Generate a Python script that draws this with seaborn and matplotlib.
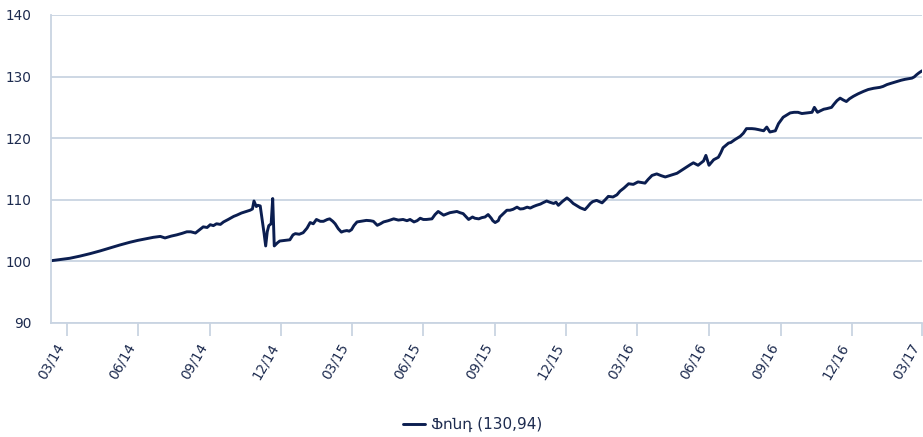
import numpy as np
import pandas as pd
import matplotlib
matplotlib.use('Agg')
import matplotlib.pyplot as plt
import matplotlib.dates as mdates
import seaborn as sns

# fund index, days counted from the first observation
start_date = '2014-02-09'
day_offset = [
    0, 12, 24, 37, 50, 63, 76, 88, 101, 111, 123, 131, 140, 146, 154, 161, 168, 174, 179, 185,
    190, 195, 200, 204, 208, 212, 217, 221, 227, 234, 238, 244, 250, 255, 258, 260, 263, 265, 268, 270,
    273, 275, 277, 279, 282, 284, 286, 290, 293, 300, 306, 310, 313, 318, 323, 328, 332, 336, 340, 345,
    349, 354, 357, 361, 364, 368, 372, 375, 379, 382, 385, 388, 392, 397, 404, 409, 413, 418, 422, 426,
    432, 439, 445, 451, 456, 460, 465, 469, 473, 477, 481, 488, 492, 496, 503, 507, 511, 520, 524, 528,
    532, 535, 540, 543, 548, 552, 556, 560, 564, 566, 569, 573, 575, 579, 584, 588, 592, 597, 601, 605,
    610, 614, 618, 622, 627, 630, 635, 639, 644, 647, 650, 655, 661, 665, 669, 674, 678, 684, 687, 691,
    694, 699, 706, 710, 714, 720, 725, 729, 734, 740, 746, 752, 761, 765, 770, 776, 782, 787, 792, 797,
    802, 808, 815, 819, 823, 829, 836, 839, 843, 849, 855, 858, 861, 868, 871, 876, 883, 887, 891, 898,
    902, 906, 913, 917, 921, 928, 932, 938, 943, 947, 952, 957, 962, 968, 975, 978, 982, 985, 990, 994,
    1000, 1003, 1007, 1011, 1015, 1019, 1023, 1028, 1034, 1041, 1047, 1054, 1062, 1066, 1071, 1076, 1084, 1089, 1094, 1103,
    1106, 1109, 1112, 1116,
]
fund_value = [
    100.1, 100.3, 100.5, 100.85, 101.25, 101.7, 102.2, 102.65, 103.1, 103.4, 103.7, 103.9, 104.05, 103.8, 104.1, 104.3, 104.55, 104.8, 104.8, 104.6,
    105.1, 105.6, 105.5, 105.95, 105.8, 106.1, 106.0, 106.4, 106.8, 107.3, 107.5, 107.85, 108.1, 108.3, 108.5, 109.8, 108.9, 109.1, 109.0, 107.2,
    104.5, 102.5, 104.8, 105.8, 106.1, 110.2, 102.5, 103.0, 103.3, 103.4, 103.5, 104.3, 104.5, 104.4, 104.65, 105.4, 106.3, 106.1, 106.8, 106.5,
    106.5, 106.8, 106.9, 106.5, 106.1, 105.3, 104.75, 104.9, 105.0, 104.9, 105.15, 105.8, 106.4, 106.5, 106.65, 106.6, 106.5, 105.85, 106.1, 106.4,
    106.6, 106.9, 106.7, 106.8, 106.6, 106.8, 106.4, 106.6, 107.0, 106.8, 106.8, 106.9, 107.6, 108.1, 107.5, 107.7, 107.9, 108.1, 107.9, 107.75,
    107.2, 106.8, 107.2, 107.0, 106.9, 107.1, 107.2, 107.6, 107.0, 106.6, 106.3, 106.6, 107.2, 107.7, 108.3, 108.3, 108.45, 108.8, 108.5, 108.55,
    108.8, 108.65, 108.9, 109.1, 109.3, 109.5, 109.8, 109.6, 109.4, 109.6, 109.1, 109.7, 110.3, 109.9, 109.4, 109.0, 108.7, 108.4, 108.8, 109.4,
    109.7, 109.9, 109.5, 110.0, 110.55, 110.45, 110.8, 111.4, 111.9, 112.6, 112.5, 112.9, 112.7, 113.3, 113.95, 114.2, 113.9, 113.7, 113.9, 114.1,
    114.3, 114.8, 115.4, 115.7, 116.0, 115.6, 116.3, 117.2, 115.6, 116.5, 116.9, 117.6, 118.45, 119.2, 119.3, 119.75, 120.3, 120.8, 121.55, 121.55,
    121.5, 121.4, 121.2, 121.8, 121.0, 121.2, 122.35, 123.4, 123.8, 124.1, 124.2, 124.2, 124.0, 124.1, 124.2, 125.0, 124.2, 124.4, 124.7, 124.8,
    125.0, 125.5, 126.1, 126.5, 126.2, 125.95, 126.4, 126.8, 127.2, 127.6, 127.9, 128.1, 128.25, 128.4, 128.7, 128.9, 129.2, 129.4, 129.55, 129.75,
    129.95, 130.3, 130.6, 130.94,
]
series_label = 'Ֆոնդ (130,94)'
y_ticks = [90, 100, 110, 120, 130, 140]

LINE = '#0b1e50'
GRID = '#c9d4e2'
TEXT = '#1d2b4f'

sns.set_theme(style='white')
plt.rcParams['font.family'] = ['DejaVu Sans', 'Noto Sans']

df = pd.DataFrame({
    'date': pd.Timestamp(start_date) + pd.to_timedelta(day_offset, unit='D'),
    'value': fund_value,
})

fig = plt.figure(figsize=(9.23, 4.37), dpi=100)
ax = fig.add_axes([0.0553, 0.261, 0.9437, 0.7047])

sns.lineplot(data=df, x='date', y='value', ax=ax, color=LINE, linewidth=2.1,
             label=series_label, legend=False)

ax.set_ylim(y_ticks[0], y_ticks[-1])
ax.set_yticks(y_ticks)
ax.set_xlim(df['date'].iloc[0], df['date'].iloc[-1])
ax.xaxis.set_major_locator(mdates.MonthLocator(bymonth=[3, 6, 9, 12]))
ax.xaxis.set_major_formatter(mdates.DateFormatter('%m/%y'))

ax.grid(axis='y', color=GRID, linewidth=1.3)
ax.grid(axis='x', visible=False)
for side in ['top', 'right']:
    ax.spines[side].set_visible(False)
for side in ['left', 'bottom']:
    ax.spines[side].set_color(GRID)
    ax.spines[side].set_linewidth(1.3)

ax.tick_params(axis='y', length=0, labelsize=9.8, labelcolor=TEXT, pad=14)
ax.tick_params(axis='x', length=9, width=1.3, color=GRID, direction='out',
               labelsize=9.8, labelcolor=TEXT, pad=4, bottom=True)
for lbl in ax.get_xticklabels():
    lbl.set_rotation(60)
    lbl.set_ha('right')
    lbl.set_rotation_mode('default')
ax.set_xlabel('')
ax.set_ylabel('')

handles, labels = ax.get_legend_handles_labels()
fig.legend(handles, labels, loc='center', bbox_to_anchor=(0.512, 0.028),
           frameon=False, fontsize=11, labelcolor=TEXT, handlelength=1.45,
           handletextpad=0.35)

fig.savefig('out.png', dpi=100)
